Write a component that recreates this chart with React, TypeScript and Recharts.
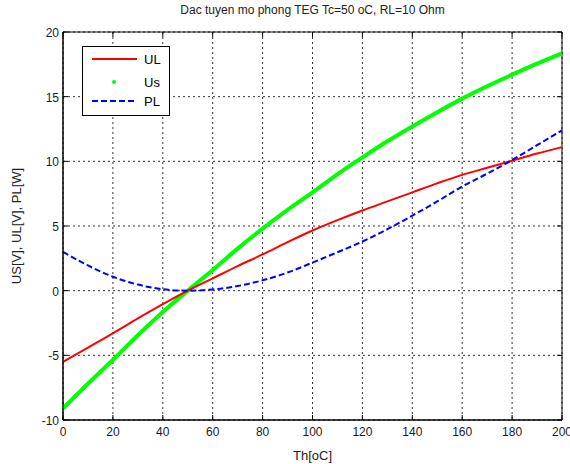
import { LineChart, Line, XAxis, YAxis, CartesianGrid, ReferenceArea } from "recharts"

const th = [0, 10, 20, 30, 40, 50, 60, 70, 80, 90, 100, 110, 120, 130, 140, 150, 160, 170, 180, 190, 200]
const ul = [-5.5, -4.4, -3.3, -2.15, -1.05, 0, 0.95, 1.9, 2.8, 3.75, 4.65, 5.45, 6.2, 6.9, 7.6, 8.3, 8.95, 9.5, 10.05, 10.6, 11.1]
const us = [-9.1, -7.2, -5.35, -3.45, -1.65, 0, 1.6, 3.25, 4.8, 6.25, 7.6, 9.0, 10.3, 11.55, 12.7, 13.8, 14.85, 15.8, 16.7, 17.55, 18.35]
const pl = [3.0, 1.95, 1.08, 0.47, 0.11, 0, 0.09, 0.36, 0.8, 1.4, 2.17, 2.97, 3.8, 4.75, 5.8, 6.9, 8.05, 9.05, 10.1, 11.25, 12.4]
const xTicks = [0, 20, 40, 60, 80, 100, 120, 140, 160, 180, 200]
const yTicks = [-10, -5, 0, 5, 10, 15, 20]

const data = th.map((t, i) => ({ th: t, UL: ul[i], Us: us[i], PL: pl[i] }))

const TOP = 32
const BOTTOM = 420
const LEFT = 63
const RIGHT = 562
const font = "'Liberation Sans', Arial, sans-serif"

function XTick({ x, payload }: any) {
    return <g>
        <line x1={x} x2={x} y1={BOTTOM} y2={BOTTOM - 5} stroke="#000" />
        <line x1={x} x2={x} y1={TOP} y2={TOP + 5} stroke="#000" />
        <text x={x} y={BOTTOM + 16} textAnchor="middle" fontSize={12} fill="#1a1a2e" fontFamily={font}>{payload.value}</text>
    </g>
}

function YTick({ y, payload }: any) {
    return <g>
        <line x1={LEFT} x2={LEFT + 5} y1={y} y2={y} stroke="#000" />
        <line x1={RIGHT} x2={RIGHT - 5} y1={y} y2={y} stroke="#000" />
        <text x={LEFT - 4} y={y + 5} textAnchor="end" fontSize={12} fill="#1a1a2e" fontFamily={font}>{payload.value}</text>
    </g>
}

function LegendBox() {
    return <div style={{ position: "absolute", left: 82, top: 46, width: 86, height: 68, border: "1px solid #000", background: "#fff", fontFamily: font }}>
        <svg width={86} height={68} style={{ position: "absolute", left: 0, top: 0 }}>
            <line x1={9} x2={54} y1={12} y2={12} stroke="#ff0000" strokeWidth={2} />
            <circle cx={31} cy={35} r={2} fill="#00ff00" />
            <line x1={9} x2={54} y1={54} y2={54} stroke="#0000ff" strokeWidth={2} strokeDasharray="6 3" />
            <text x={61} y={17} fontSize={13} fill="#000">UL</text>
            <text x={61} y={40} fontSize={13} fill="#000">Us</text>
            <text x={61} y={59} fontSize={13} fill="#000">PL</text>
        </svg>
    </div>
}

export default function App() {
    return <div style={{ position: "absolute", left: 0, top: 0, width: 570, height: 464, background: "#fff", overflow: "hidden" }}>
        <div style={{ position: "absolute", left: LEFT, width: RIGHT - LEFT, top: 3, textAlign: "center", fontFamily: font, fontSize: 12, color: "#222" }}>
            Dac tuyen mo phong TEG Tc=50 oC, RL=10 Ohm
        </div>
        <LineChart width={570} height={464} data={data} margin={{ top: TOP, right: 570 - RIGHT, left: 0, bottom: 0 }}>
            <CartesianGrid stroke="#333" strokeDasharray="2 3" />
            <XAxis dataKey="th" type="number" domain={[0, 200]} ticks={xTicks} height={464 - BOTTOM} axisLine={{ stroke: "#000" }} tickLine={false} tick={<XTick />}
                label={{ value: "Th[oC]", position: "insideBottom", offset: 4, fontSize: 13, fill: "#222", fontFamily: font }} interval={0} />
            <YAxis type="number" domain={[-10, 20]} ticks={yTicks} width={LEFT} axisLine={{ stroke: "#000" }} tickLine={false} tick={<YTick />}
                label={{ value: "US[V], UL[V], PL[W]", angle: -90, position: "insideLeft", offset: 16, style: { textAnchor: "middle" }, fontSize: 13, fill: "#222", fontFamily: font }} interval={0} />
            <ReferenceArea x1={0} x2={200} y1={-10} y2={20} fill="none" stroke="#000" strokeWidth={1} ifOverflow="visible" />
            <Line dataKey="Us" type="monotone" stroke="#00ff00" strokeWidth={4} dot={false} isAnimationActive={false} />
            <Line dataKey="UL" type="monotone" stroke="#ff0000" strokeWidth={2} dot={false} isAnimationActive={false} />
            <Line dataKey="PL" type="monotone" stroke="#0000ff" strokeWidth={2} strokeDasharray="6 3" dot={false} isAnimationActive={false} />
        </LineChart>
        <LegendBox />
    </div>
}
